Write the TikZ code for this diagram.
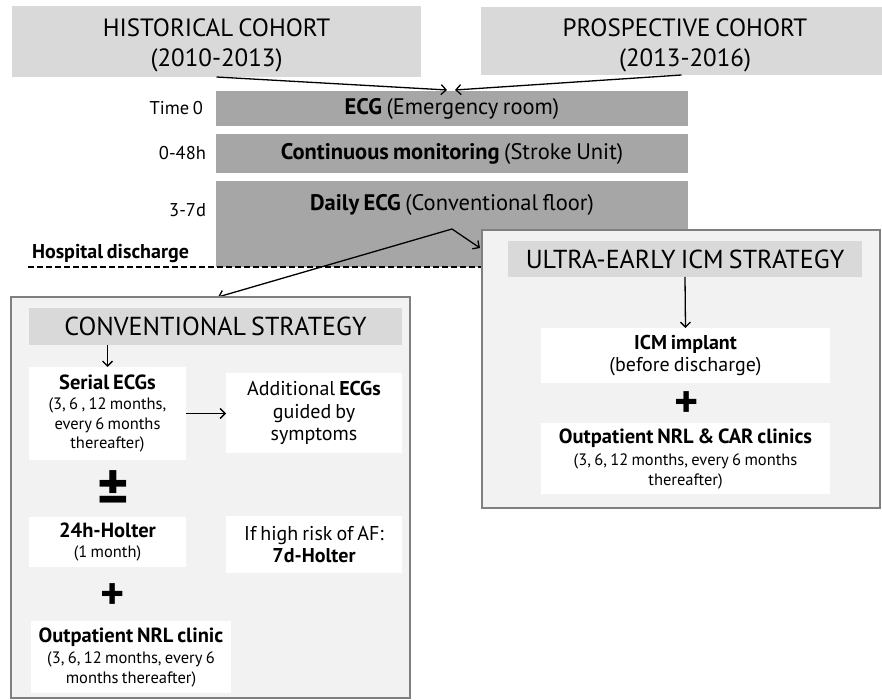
\documentclass[tikz,border=0pt]{standalone}
\usepackage{fontspec}
\setmainfont{PT Sans}[WordSpace=0.75]
\usetikzlibrary{arrows.meta}
\definecolor{hdr}{HTML}{D9D9D9}
\definecolor{barc}{HTML}{A6A6A6}
\definecolor{pane}{HTML}{F2F2F2}
\definecolor{edgec}{HTML}{7F7F7F}
\newcommand{\ttl}[1]{\textbf{\fontsize{20.5}{22}\selectfont #1}}
\begin{document}
\begin{tikzpicture}[x=1pt,y=-1pt,
  every node/.style={inner sep=0pt,outer sep=0pt},
  cohort/.style={fill=hdr,align=center,font=\fontsize{25}{30}\selectfont},
  stepbar/.style={fill=barc,minimum width=472pt,font=\fontsize{22.5}{24}\selectfont},
  timelbl/.style={anchor=east,font=\fontsize{18.5}{20}\selectfont},
  panebox/.style={fill=pane,draw=edgec,line width=2pt},
  headbar/.style={fill=hdr,font=\fontsize{26}{30}\selectfont},
  whitebox/.style={fill=white,align=center,font=\fontsize{16.5}{19.5}\selectfont},
  bigbox/.style={fill=white,align=center,font=\fontsize{20}{22.5}\selectfont},
  plussign/.style={font=\fontsize{46}{46}\selectfont\bfseries},
  arr/.style={-{Straight Barb[length=5pt,width=10pt]},line width=1.3pt},
]
\useasboundingbox (0,0) rectangle (882,700);

% cohorts
\node[cohort,minimum width=409pt,minimum height=71pt] (hist) at (216.5,41.5) {};
\node[cohort] (histt) at (216.5,45) {HISTORICAL COHORT\\(2010-2013)};
\node[cohort,minimum width=401pt,minimum height=68pt] (pros) at (681.5,41) {};
\node[cohort] (prost) at (685,45) {PROSPECTIVE COHORT\\(2013-2016)};

% timeline bars
\node[stepbar,minimum height=35pt] (bar1) at (452,108.5) {\textbf{ECG} (Emergency room)};
\node[stepbar,minimum height=39pt] (bar2) at (452,153.5) {\textbf{Continuous monitoring} (Stroke Unit)};
\node[stepbar,minimum height=86pt] (bar3) at (452,224) {};
\node[font=\fontsize{22.5}{24}\selectfont] (bar3t) at (452,205) {\textbf{Daily ECG} (Conventional floor)};

\node[timelbl] (t0) at (203,108) {Time 0};
\node[timelbl] (t1) at (206,153) {0-48h};
\node[timelbl] (t2) at (206,210) {3-7d};

\coordinate (m1) at (447,90);
\coordinate (m2) at (455,90);
\draw[arr] (hist.south) -- (m1);
\draw[arr] (pros.south) -- (m2);

% discharge
\node[anchor=west,font=\fontsize{20}{22}\selectfont\bfseries] (hd) at (32,254) {Hospital discharge};
\coordinate (d1) at (28,267);
\coordinate (d2) at (490,267);
\draw[dash pattern=on 6pt off 3pt,line width=2.2pt] (d1) -- (d2);

% apex arrows
\coordinate (apex) at (452,229);
\coordinate (toU) at (480,248);
\coordinate (toC) at (218,297);
\draw[arr] (apex) -- (toU);
\draw[arr] (apex) -- (toC);

% conventional pane
\node[panebox,minimum width=399pt,minimum height=401pt] (conv) at (210.5,497.5) {};
\node[headbar,minimum width=373pt,minimum height=37pt] (convh) at (215.5,326.5) {CONVENTIONAL STRATEGY};
\node[whitebox,minimum width=157pt,minimum height=93pt] (serial) at (107.5,413.5)
  {\ttl{Serial ECGs}\\[1pt](3, 6 , 12 months,\\every 6 months\\thereafter)};
\node[bigbox,minimum width=176pt,minimum height=80pt] (addl) at (314,413)
  {Additional \textbf{ECGs}\\guided by\\symptoms};
\node[plussign,font=\fontsize{60}{60}\selectfont\bfseries] (pm) at (113,491) {±};
\node[whitebox,minimum width=157pt,minimum height=50pt] (holter) at (107.5,542)
  {\ttl{24h-Holter}\\(1 month)};
\node[bigbox,minimum width=176pt,minimum height=57pt] (risk) at (314,544.5)
  {If high risk of AF:\\\textbf{7d-Holter}};
\node[plussign] (p2) at (113,597) {+};
\node[whitebox,minimum width=200pt,minimum height=72pt] (outp) at (131,657)
  {\ttl{Outpatient NRL clinic}\\[2pt](3, 6, 12 months, every 6\\months thereafter)};
\draw[arr] (convh.south -| serial.north) -- (serial.north);
\draw[arr] (serial.east) -- (serial.east -| addl.west);

% ultra-early pane
\node[panebox,minimum width=398pt,minimum height=278pt] (ultra) at (681,369) {};
\node[headbar,minimum width=354pt,minimum height=36pt] (ultrah) at (685,259) {ULTRA-EARLY ICM STRATEGY};
\node[bigbox,minimum width=289pt,minimum height=55pt] (icm) at (685.5,355.5)
  {\textbf{ICM implant}\\(before discharge)};
\node[plussign] (p3) at (687,405) {+};
\node[whitebox,minimum width=289pt,minimum height=71pt] (outc) at (685.5,458.5)
  {\ttl{Outpatient NRL \& CAR clinics}\\[3pt](3, 6, 12 months, every 6 months\\thereafter)};
\draw[arr] (ultrah.south) -- (icm.north);
\end{tikzpicture}
\end{document}
